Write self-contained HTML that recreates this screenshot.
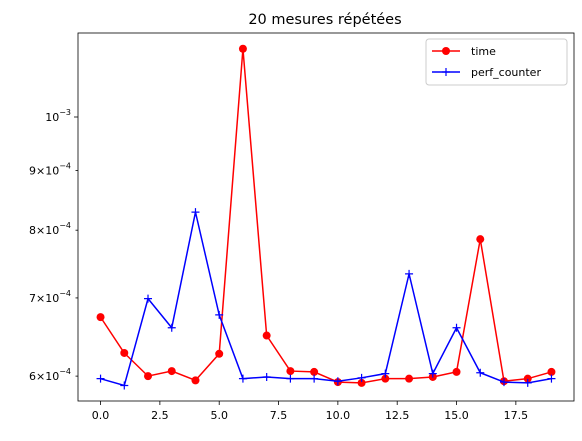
<!DOCTYPE html>
<html><head><meta charset="utf-8"><style>
body{margin:0;background:#fff;width:582px;height:436px;overflow:hidden;font-family:"Liberation Sans","DejaVu Sans",sans-serif}
text{font-family:"DejaVu Sans","Liberation Sans",sans-serif}
</style></head><body>
<svg id="chart" width="582" height="436" xmlns="http://www.w3.org/2000/svg"></svg>
<script>
const xValues=[0,1,2,3,4,5,6,7,8,9,10,11,12,13,14,15,16,17,18,19];
const timeValues=[6.74e-4,6.28e-4,6.00e-4,6.06e-4,5.95e-4,6.27e-4,1.144e-3,6.50e-4,6.06e-4,6.05e-4,5.93e-4,5.92e-4,5.97e-4,5.97e-4,5.99e-4,6.05e-4,7.86e-4,5.94e-4,5.97e-4,6.05e-4];
const perfValues=[5.97e-4,5.89e-4,6.99e-4,6.60e-4,8.29e-4,6.77e-4,5.97e-4,5.99e-4,5.97e-4,5.97e-4,5.94e-4,5.98e-4,6.03e-4,7.34e-4,6.03e-4,6.60e-4,6.04e-4,5.93e-4,5.92e-4,5.97e-4];
const xTicks=[0,2.5,5,7.5,10,12.5,15,17.5];
const xTickLabels=["0.0","2.5","5.0","7.5","10.0","12.5","15.0","17.5"];
const yTicks=[6e-4,7e-4,8e-4,9e-4,1e-3];
const yTickMant=["6","7","8","9",""];

const svg=document.getElementById('chart');
const NS='http://www.w3.org/2000/svg';
const L=78,R=574,T=33,B=401;
function xs(v){return L+(v+0.95)/20.9*(R-L);}
function ys(v){return 117-Math.log10(v/1e-3)*1168;}
function mk(tag,attrs,parent){const e=document.createElementNS(NS,tag);for(const k in attrs)e.setAttribute(k,attrs[k]);(parent||svg).appendChild(e);return e;}

const t=mk('text',{x:325,y:24,'text-anchor':'middle','font-size':14.5,fill:'#000'});
t.textContent='20 mesures répétées';



xTicks.forEach((v,i)=>{
  const x=xs(v);
  const l=mk('line',{x1:x,x2:x,y1:B,y2:B+4,stroke:'#000','stroke-width':0.8});
  
  
  const tx=mk('text',{x:x,y:B+18,'text-anchor':'middle','font-size':11});
  tx.textContent=xTickLabels[i];
  
  
});
yTicks.forEach((v,i)=>{
  const y=ys(v);
  const l=mk('line',{x1:L-(i==4?4:2.5),x2:L,y1:y,y2:y,stroke:'#000','stroke-width':0.8});
  
  
  const tx=mk('text',{x:L-7,y:y+4,'text-anchor':'end','font-size':11});
  
  
  const exp=i==4?'−3':'−4';
  tx.innerHTML=(yTickMant[i]?yTickMant[i]+'×':'')+'10<tspan dy="-6" font-size="8">'+exp+'</tspan>';
});

function series(vals,color,name,marker){
  const g=mk('g',{});
  
  
  const pts=vals.map((v,i)=>xs(xValues[i])+','+ys(v)).join(' ');
  const pl=mk('polyline',{points:pts,fill:'none',stroke:color,'stroke-width':1.5},g);
  
  
  vals.forEach((v,i)=>{
    const x=xs(xValues[i]),y=ys(v);let m;
    if(marker==='o'){m=mk('circle',{cx:x,cy:y,r:4,fill:color},g);}
    else{m=mk('path',{d:`M${x-4},${y}H${x+4}M${x},${y-4}V${y+4}`,stroke:color,'stroke-width':1.2},g);}
    
    
  });
}
series(timeValues,'#ff0000','time','o');
series(perfValues,'#0000ff','perf-counter','+');

const frame=mk('rect',{x:L,y:T,width:R-L,height:B-T,fill:'none',stroke:'#000','stroke-width':0.8});



const lg=mk('g',{});


mk('rect',{x:426,y:39,width:141,height:46,rx:3,fill:'#fff','fill-opacity':0.8,stroke:'#ccc'},lg);
const e1=mk('g',{},lg);


mk('line',{x1:432,x2:460,y1:51,y2:51,stroke:'#ff0000','stroke-width':1.5},e1);
mk('circle',{cx:446,cy:51,r:4,fill:'#ff0000'},e1);
mk('text',{x:471,y:55,'font-size':11},e1).textContent='time';
const e2=mk('g',{},lg);


mk('line',{x1:432,x2:460,y1:72,y2:72,stroke:'#0000ff','stroke-width':1.5},e2);
mk('path',{d:'M442,72H450M446,68V76',stroke:'#0000ff','stroke-width':1.2},e2);
mk('text',{x:471,y:76,'font-size':11},e2).textContent='perf_counter';
</script>
</body></html>
